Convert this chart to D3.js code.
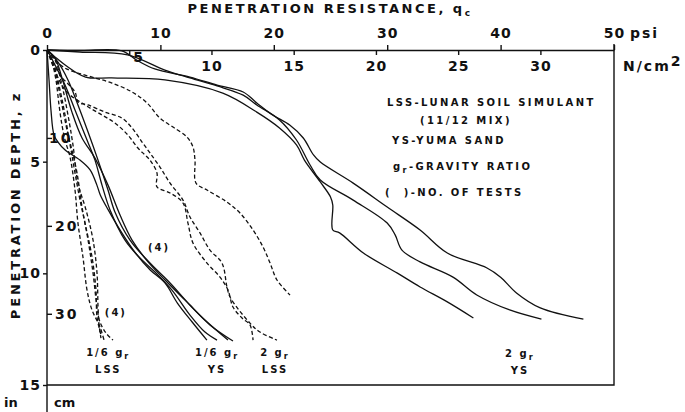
<!DOCTYPE html>
<html>
<head>
<meta charset="utf-8">
<script src="https://cdn.jsdelivr.net/npm/d3@7"></script>
<style>
    body { margin: 0; background: #fff; }
    svg text { font-family: "DejaVu Sans", sans-serif; font-weight: bold; fill: #111; }
    .axis path, .axis line { stroke: #111; stroke-width: 1.4; }
</style>
</head>
<body>
<div class="chartdiv"></div>
<script>
// tick values for the four axes
const psiTicks = [0, 10, 20, 30, 40, 50]
const ncmTicks = [5, 10, 15, 20, 25, 30]
const inTicks = [0, 5, 10, 15]
const cmTicks = [10, 20, 30]

// curves are [q_c in psi, depth in inches]
const ysTwoG = [
    [[0, 0], [3, 0.02], [6.6, 0.04], [7.9, 0.45], [9.5, 0.85], [12.6, 1.21], [15.0, 1.57], [17.3, 1.88], [18.5, 2.37], [19.9, 2.91], [21.4, 3.36], [22.6, 3.94], [23.5, 4.70], [24.1, 5.02], [27.0, 5.96], [30.0, 7.03], [32.9, 8.06], [35.3, 9.09], [38.8, 9.76], [40.0, 10.17], [41.4, 10.88], [43.5, 11.55], [47.3, 12.05]],
    [[0, 0], [2.9, 0.09], [7.1, 0.22], [10.4, 0.9], [12.6, 1.25], [15.0, 1.61], [17.3, 2.02], [18.5, 2.46], [20.5, 3.13], [22.0, 4.03], [23.2, 5.15], [24.1, 5.82], [27.0, 6.72], [30.0, 7.75], [30.7, 8.28], [31.3, 8.96], [32.9, 9.49], [35.8, 10.17], [37.9, 10.97], [40.8, 11.64], [43.6, 12.05]],
    [[0, 0], [0.7, 0.31], [1.6, 0.67], [3.4, 1.21], [5.7, 1.25], [10.4, 1.34], [15.5, 1.93], [18.5, 2.78], [20.5, 3.49], [22.0, 4.25], [22.7, 4.93], [24.1, 5.91], [25.0, 6.58], [25.2, 6.94], [25.2, 8.06], [25.8, 8.19], [27.9, 9.09], [30.9, 9.99], [32.9, 10.61], [35.3, 11.28], [37.6, 12.0]]
]
const ysSixth = [
    [[0, 0], [0.18, 1.34], [0.35, 2.69], [0.62, 3.81], [0.97, 4.12], [1.6, 4.48], [2.9, 4.93], [3.8, 5.37], [4.4, 6.05], [4.7, 6.49], [5.4, 7.16], [6.6, 8.19], [7.8, 9.09], [9.1, 9.85], [10.4, 10.43], [11.5, 11.33], [12.8, 12.18], [14.1, 12.99]],
    [[0, 0], [0.71, 0.67], [1.59, 1.57], [2.47, 2.69], [3.35, 3.81], [4.23, 4.93], [4.85, 6.05], [5.56, 7.16], [6.88, 8.51], [8.2, 9.31], [9.52, 9.94], [11.02, 10.75], [12.61, 11.87], [13.93, 12.63], [14.99, 12.99]],
    [[0, 0], [0.97, 0.54], [1.85, 1.34], [2.73, 2.46], [3.62, 3.67], [4.5, 4.93], [5.38, 6.27], [5.99, 7.25], [7.32, 8.51], [9.08, 9.54], [10.85, 10.43], [12.61, 11.42], [14.37, 12.31], [16.4, 13.03]],
    [[0, 0], [0.71, 0.36], [1.32, 1.25], [2.2, 2.78], [3.09, 3.94], [4.23, 4.84], [5.38, 6.05], [6.44, 7.39], [7.5, 8.51], [8.91, 9.49], [10.41, 10.30], [12.17, 11.2], [13.93, 12.09], [15.96, 12.99]]
]
const lssSixth = [
    [[0, 0], [0.44, 0.54], [0.79, 1.34], [1.06, 2.46], [1.32, 3.36], [1.59, 4.03], [2.03, 4.79], [2.47, 6.27], [2.73, 7.75], [3.17, 9.27], [3.53, 10.75], [3.97, 11.64], [4.67, 12.4], [5.03, 12.99]],
    [[0, 0], [0.62, 0.67], [1.15, 1.79], [1.59, 2.91], [1.94, 3.94], [2.2, 4.48], [2.65, 5.51], [3.09, 7.03], [3.62, 8.51], [4.06, 9.99], [4.41, 11.51], [4.67, 12.18], [5.2, 12.67], [5.82, 12.99]],
    [[0, 0], [0.44, 0.45], [0.88, 1.34], [1.32, 2.46], [1.76, 3.58], [2.12, 4.48], [2.47, 5.51], [2.91, 6.72], [3.35, 7.75], [3.97, 9.27], [4.32, 10.75], [4.41, 11.96], [4.76, 12.76]],
    [[0, 0], [0.71, 0.45], [1.32, 1.57], [1.85, 2.91], [2.29, 4.25], [2.73, 5.96], [3.44, 7.16], [4.06, 8.51], [4.41, 9.99], [4.5, 11.51], [4.59, 12.31], [4.76, 12.9]]
]
const lssTwoG = [
    [[0, 0], [0.71, 0.45], [1.59, 0.81], [2.73, 1.03], [4.23, 1.25], [5.73, 1.48], [7.5, 1.88], [8.82, 2.37], [9.96, 3.05], [11.11, 3.45], [12.35, 3.9], [12.87, 4.34], [13.05, 4.93], [13.14, 5.96], [14.11, 6.27], [15.87, 6.81], [17.02, 7.3], [18.17, 8.06], [19.05, 8.82], [19.67, 9.54], [20.28, 10.3], [21.43, 10.97]],
    [[0, 0], [1.15, 1.12], [2.47, 1.88], [2.73, 2.33], [3.62, 2.46], [5.11, 2.78], [6.61, 3.05], [7.5, 3.49], [8.38, 4.12], [9.08, 4.61], [9.96, 5.24], [10.85, 5.96], [11.99, 6.72], [12.61, 7.48], [13.49, 8.19], [14.37, 8.96], [15.43, 9.54], [15.87, 10.61], [16.14, 11.06], [17.9, 12.23], [18.78, 12.63], [20.28, 12.99]],
    [[0, 0], [1.59, 1.79], [3.35, 2.46], [4.85, 2.91], [5.99, 3.27], [7.14, 3.81], [8.02, 4.39], [8.64, 4.7], [9.08, 4.93], [9.7, 5.51], [9.7, 6.13], [10.85, 6.4], [11.99, 6.85], [12.43, 7.75], [12.87, 8.64], [14.11, 9.54], [15.26, 10.17], [15.96, 10.75], [16.4, 11.51], [17.2, 12.0], [17.9, 12.31], [18.17, 12.99]]
]

const legendLines = ['LSS-LUNAR SOIL SIMULANT', '(11/12 MIX)', 'YS-YUMA SAND', 'g|r|-GRAVITY RATIO', '(\u00a0\u00a0)-NO. OF TESTS']
const curveNames = [['1/6 g', 'LSS'], ['1/6 g', 'YS'], ['2 g', 'LSS'], ['2 g', 'YS']]

const PSI_TO_NCM = 0.6895
const W = 685, H = 412
const padL = 47, padR = 614, padT = 50, padB = 385

let svg = d3.select('.chartdiv').append('svg')
    .attr('width', W)
    .attr('height', H)

let x = d3.scaleLinear().domain([0, 50]).range([padL, padR])
let xN = d3.scaleLinear().domain([0, 50 * PSI_TO_NCM]).range([padL, padR])
let y = d3.scaleLinear().domain([0, 15]).range([padT, padB])
let yCm = d3.scaleLinear().domain([0, 15 * 2.54]).range([padT, padB])

// frame: left line runs down past the plot to split "in | cm"
svg.append('path')
    .attr('d', `M${padL},${padT}V${H}M${padL},${padB}H${padR}V${padT - 6}`)
    .attr('fill', 'none')
    .attr('stroke', '#111')
    .attr('stroke-width', 1.4)

////// axes //////
let gPsi = svg.append('g').attr('class', 'axis')
    .attr('transform', `translate(0,${padT})`)
    .call(d3.axisTop(x).tickValues(psiTicks).tickSize(5).tickSizeOuter(0).tickPadding(7))
gPsi.selectAll('text').style('font-size', '14px').style('letter-spacing', '1px')

let gN = svg.append('g').attr('class', 'axis')
    .attr('transform', `translate(0,${padT})`)
    .call(d3.axisBottom(xN).tickValues(ncmTicks).tickSize(5).tickPadding(6))
gN.select('.domain').remove()
gN.selectAll('text').style('font-size', '14px').style('letter-spacing', '1px')
// the "5" sits higher and to the right in the original
gN.selectAll('.tick').filter(d => d === 5).select('text').attr('x', 9).attr('y', 2)

let gIn = svg.append('g').attr('class', 'axis')
    .attr('transform', `translate(${padL},0)`)
    .call(d3.axisLeft(y).tickValues(inTicks).tickSize(4).tickPadding(2))
gIn.select('.domain').remove()
gIn.selectAll('text').style('font-size', '14px').style('letter-spacing', '1px')

let gCm = svg.append('g').attr('class', 'axis')
    .attr('transform', `translate(${padL},0)`)
    .call(d3.axisRight(yCm).tickValues(cmTicks).tickSize(5).tickPadding(3))
gCm.select('.domain').remove()
gCm.selectAll('text').style('font-size', '14px').style('letter-spacing', '2px')
gCm.selectAll('.tick').filter(d => d === 10).select('text').attr('x', 2)

////// curves //////
let line = d3.line()
    .x(d => x(d[0]))
    .y(d => y(d[1]))
    .curve(d3.curveCatmullRom.alpha(0.5))

function drawSet(sets, dashed) {
    svg.append('g')
        .selectAll('path')
        .data(sets)
        .enter()
        .append('path')
        .attr('d', line)
        .attr('fill', 'none')
        .attr('stroke', '#111')
        .attr('stroke-width', 1.3)
        .attr('stroke-dasharray', dashed ? '4,2.5' : null)
}
drawSet(ysTwoG, false)
drawSet(ysSixth, false)
drawSet(lssSixth, true)
drawSet(lssTwoG, true)

////// texts //////
let title = svg.append('text')
    .attr('x', 330).attr('y', 13)
    .attr('text-anchor', 'middle')
    .style('font-size', '13px')
    .style('letter-spacing', '2.5px')
title.append('tspan').text('PENETRATION RESISTANCE, q')
title.append('tspan').attr('dy', 3).style('font-size', '9px').text('c')

svg.append('text')
    .attr('transform', 'translate(20,205) rotate(-90)')
    .attr('text-anchor', 'middle')
    .style('font-size', '13px')
    .style('letter-spacing', '2.8px')
    .text('PENETRATION DEPTH, z')

svg.append('text').attr('x', 630).attr('y', 38)
    .style('font-size', '14px').style('letter-spacing', '2px').text('psi')
let ncm = svg.append('text').attr('x', 623).attr('y', 71)
    .style('font-size', '14px').style('letter-spacing', '2px')
ncm.append('tspan').text('N/cm')
ncm.append('tspan').attr('dy', -5).text('2')

svg.append('text').attr('x', 4).attr('y', 407).style('font-size', '13px').text('in')
svg.append('text').attr('x', 54).attr('y', 407).style('font-size', '13px').text('cm')

// legend block
let legendX = [387, 420, 392, 393, 385],
    legendY = [106, 124, 144, 170, 196]
legendLines.forEach((s, i) => {
    let t = svg.append('text')
        .attr('x', legendX[i]).attr('y', legendY[i])
        .style('font-size', '10px')
        .style('letter-spacing', '2.4px')
    let parts = s.split('|')
    if (parts.length === 1) {
        t.text(s)
    } else {
        t.append('tspan').text(parts[0])
        t.append('tspan').attr('dy', 3).style('font-size', '8px').text(parts[1])
        t.append('tspan').attr('dy', -3).text(parts[2])
    }
})

// curve group labels, anchored in data units
let namePos = [[5.4, 13.7], [15.0, 13.7], [20.1, 13.7], [41.7, 13.75]]
curveNames.forEach((n, i) => {
    let t = svg.append('text')
        .attr('x', x(namePos[i][0])).attr('y', y(namePos[i][1]))
        .attr('text-anchor', 'middle')
        .style('font-size', '10px')
        .style('letter-spacing', '2px')
    t.append('tspan').text(n[0])
    t.append('tspan').attr('dy', 3).style('font-size', '8px').text('r')
    svg.append('text')
        .attr('x', x(namePos[i][0])).attr('y', y(namePos[i][1]) + 17)
        .attr('text-anchor', 'middle')
        .style('font-size', '10px')
        .style('letter-spacing', '2px')
        .text(n[1])
})

// number of tests
let testsPos = [[8.9, 9.0], [5.1, 11.9]]
testsPos.forEach(p => {
    svg.append('text')
        .attr('x', x(p[0])).attr('y', y(p[1]))
        .style('font-size', '10px')
        .style('letter-spacing', '2px')
        .text('(4)')
})
</script>
</body>
</html>
